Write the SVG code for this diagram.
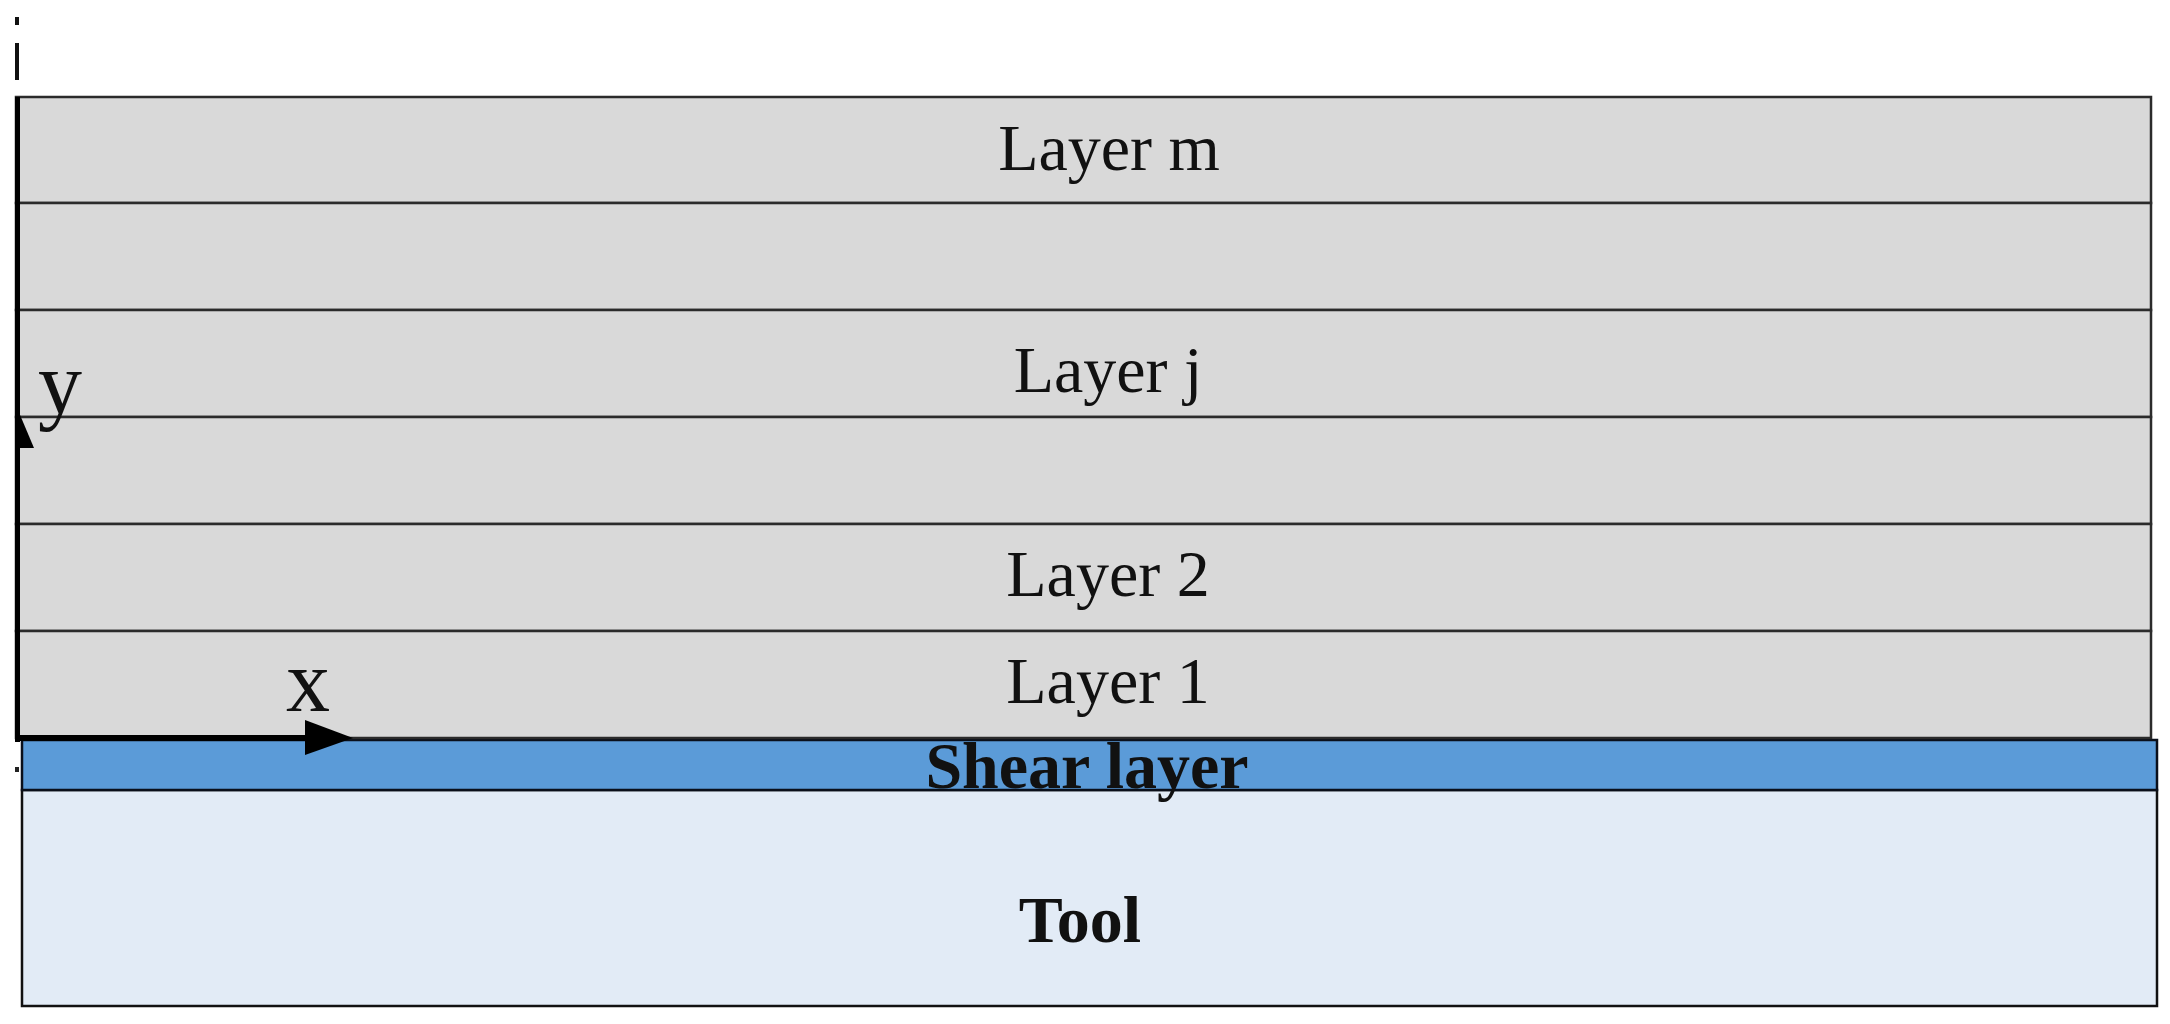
<svg xmlns="http://www.w3.org/2000/svg" width="2170" height="1024" viewBox="0 0 2170 1024">
<style>
.layer{fill:#d9d9d9;stroke:#2b2b2b;stroke-width:2.5}
.lbl{font-family:"Liberation Serif","Times New Roman",serif;font-size:66px;fill:#111;text-anchor:middle}
.bold{font-weight:bold}
.ax{font-family:"Liberation Serif","Times New Roman",serif;font-size:88px;fill:#111}
</style>
<rect width="2170" height="1024" fill="#ffffff"/>
<g id="tool">
<rect x="22" y="790" width="2135" height="216" fill="#e2ebf6" stroke="#111" stroke-width="2.5"/>
<text class="lbl bold" x="1080" y="942">Tool</text>
</g>
<g id="shear-layer">
<rect x="22" y="740" width="2135" height="50" fill="#5b9bd8" stroke="#0a0f1a" stroke-width="2.5"/>
<text class="lbl bold" x="1087" y="788">Shear layer</text>
</g>
<g id="layer-m">
<rect class="layer" x="16" y="97" width="2135" height="106"/>
<text class="lbl" x="1109" y="170">Layer m</text>
</g>
<g id="layer-blank-upper">
<rect class="layer" x="16" y="203" width="2135" height="107"/>
</g>
<g id="layer-j">
<rect class="layer" x="16" y="310" width="2135" height="107"/>
<text class="lbl" x="1108" y="392">Layer j</text>
</g>
<g id="layer-blank-lower">
<rect class="layer" x="16" y="417" width="2135" height="107"/>
</g>
<g id="layer-2">
<rect class="layer" x="16" y="524" width="2135" height="107"/>
<text class="lbl" x="1108" y="596">Layer 2</text>
</g>
<g id="layer-1">
<rect class="layer" x="16" y="631" width="2135" height="107"/>
<text class="lbl" x="1108" y="703">Layer 1</text>
</g>
<g id="connectors">
<line x1="17" y1="17" x2="17" y2="25" stroke="#111" stroke-width="4"/>
<line x1="17" y1="43" x2="17" y2="80" stroke="#111" stroke-width="4"/>
<line x1="17.5" y1="97" x2="17.5" y2="742" stroke="#000" stroke-width="5"/>
<polygon points="15,403 34,448 15,448" fill="#000"/>
<line x1="15" y1="738" x2="310" y2="738" stroke="#000" stroke-width="6"/>
<polygon points="305,720 353,738 305,755" fill="#000"/>
<rect x="15" y="767" width="4" height="5" fill="#222"/>
</g>
<text class="ax" x="38" y="413">y</text>
<text class="ax" x="286" y="711">x</text>
</svg>
